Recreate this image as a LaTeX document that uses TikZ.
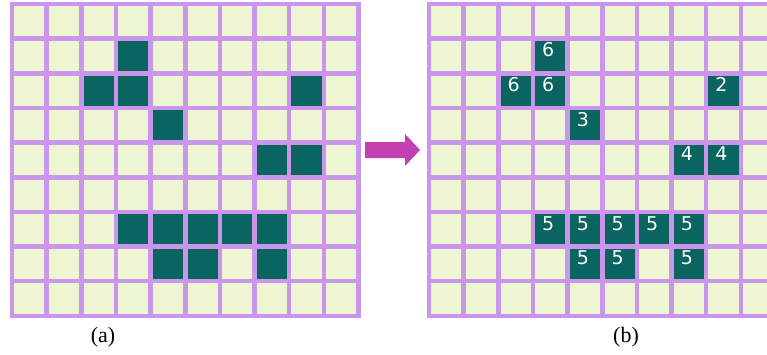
\documentclass[tikz,border=0pt]{standalone}
\usepackage{fontspec}
\setmainfont{Liberation Serif}
\newfontfamily\numfont{DejaVu Sans}
\definecolor{gridline}{RGB}{201,150,235}
\definecolor{cellfill}{RGB}{238,245,210}
\definecolor{darkcell}{RGB}{10,101,96}
\definecolor{arrowcol}{RGB}{196,64,178}
\begin{document}
\begin{tikzpicture}[x=1pt,y=-1pt,
  gridpen/.style={draw=gridline, line width=4.5pt, line cap=rect},
  numlabel/.style={text=white, inner sep=0pt, font=\numfont\fontsize{19}{19}\selectfont},
  caption/.style={inner sep=0pt, font=\fontsize{22}{22}\selectfont}]
\useasboundingbox (0,0) rectangle (767,354);
\fill[white] (0,0) rectangle (767,354);
\begin{scope}
\clip (0,0) rectangle (767,354);
% left grid (a)
\fill[cellfill] (12,4) rectangle ++(346.5,311.85);
\foreach \c/\r in {3/1,2/2,3/2,8/2,4/3,7/4,8/4,3/6,4/6,5/6,6/6,7/6,4/7,5/7,7/7}
  \fill[darkcell] ({12+\c*34.65},{4+\r*34.65}) rectangle ++(34.65,34.65);
\foreach \i in {0,...,10} \draw[gridpen] ({12+\i*34.65},4) -- ++(0,311.85);
\foreach \j in {0,...,9} \draw[gridpen] (12,{4+\j*34.65}) -- ++(346.5,0);
% right grid (b)
\fill[cellfill] (429,4) rectangle ++(346.5,311.85);
\foreach \c/\r in {3/1,2/2,3/2,8/2,4/3,7/4,8/4,3/6,4/6,5/6,6/6,7/6,4/7,5/7,7/7}
  \fill[darkcell] ({429+\c*34.65},{4+\r*34.65}) rectangle ++(34.65,34.65);
\foreach \i in {0,...,10} \draw[gridpen] ({429+\i*34.65},4) -- ++(0,311.85);
\foreach \j in {0,...,9} \draw[gridpen] (429,{4+\j*34.65}) -- ++(346.5,0);
\foreach \c/\r/\n in {3/1/6,2/2/6,3/2/6,8/2/2,4/3/3,7/4/4,8/4/4,3/6/5,4/6/5,5/6/5,6/6/5,7/6/5,4/7/5,5/7/5,7/7/5}
  \node[numlabel] (n\c-\r) at ({429+(\c+0.5)*34.65-2},{4+(\r+0.5)*34.65-6}) {\n};
\end{scope}
% arrow
\fill[arrowcol] (365,142) -- (405,142) -- (405,134) -- (420,150) -- (405,166) -- (405,158) -- (365,158) -- cycle;
% captions
\node[caption] (capa) at (103,337) {(a)};
\node[caption] (capb) at (626,337) {(b)};
\end{tikzpicture}
\end{document}
